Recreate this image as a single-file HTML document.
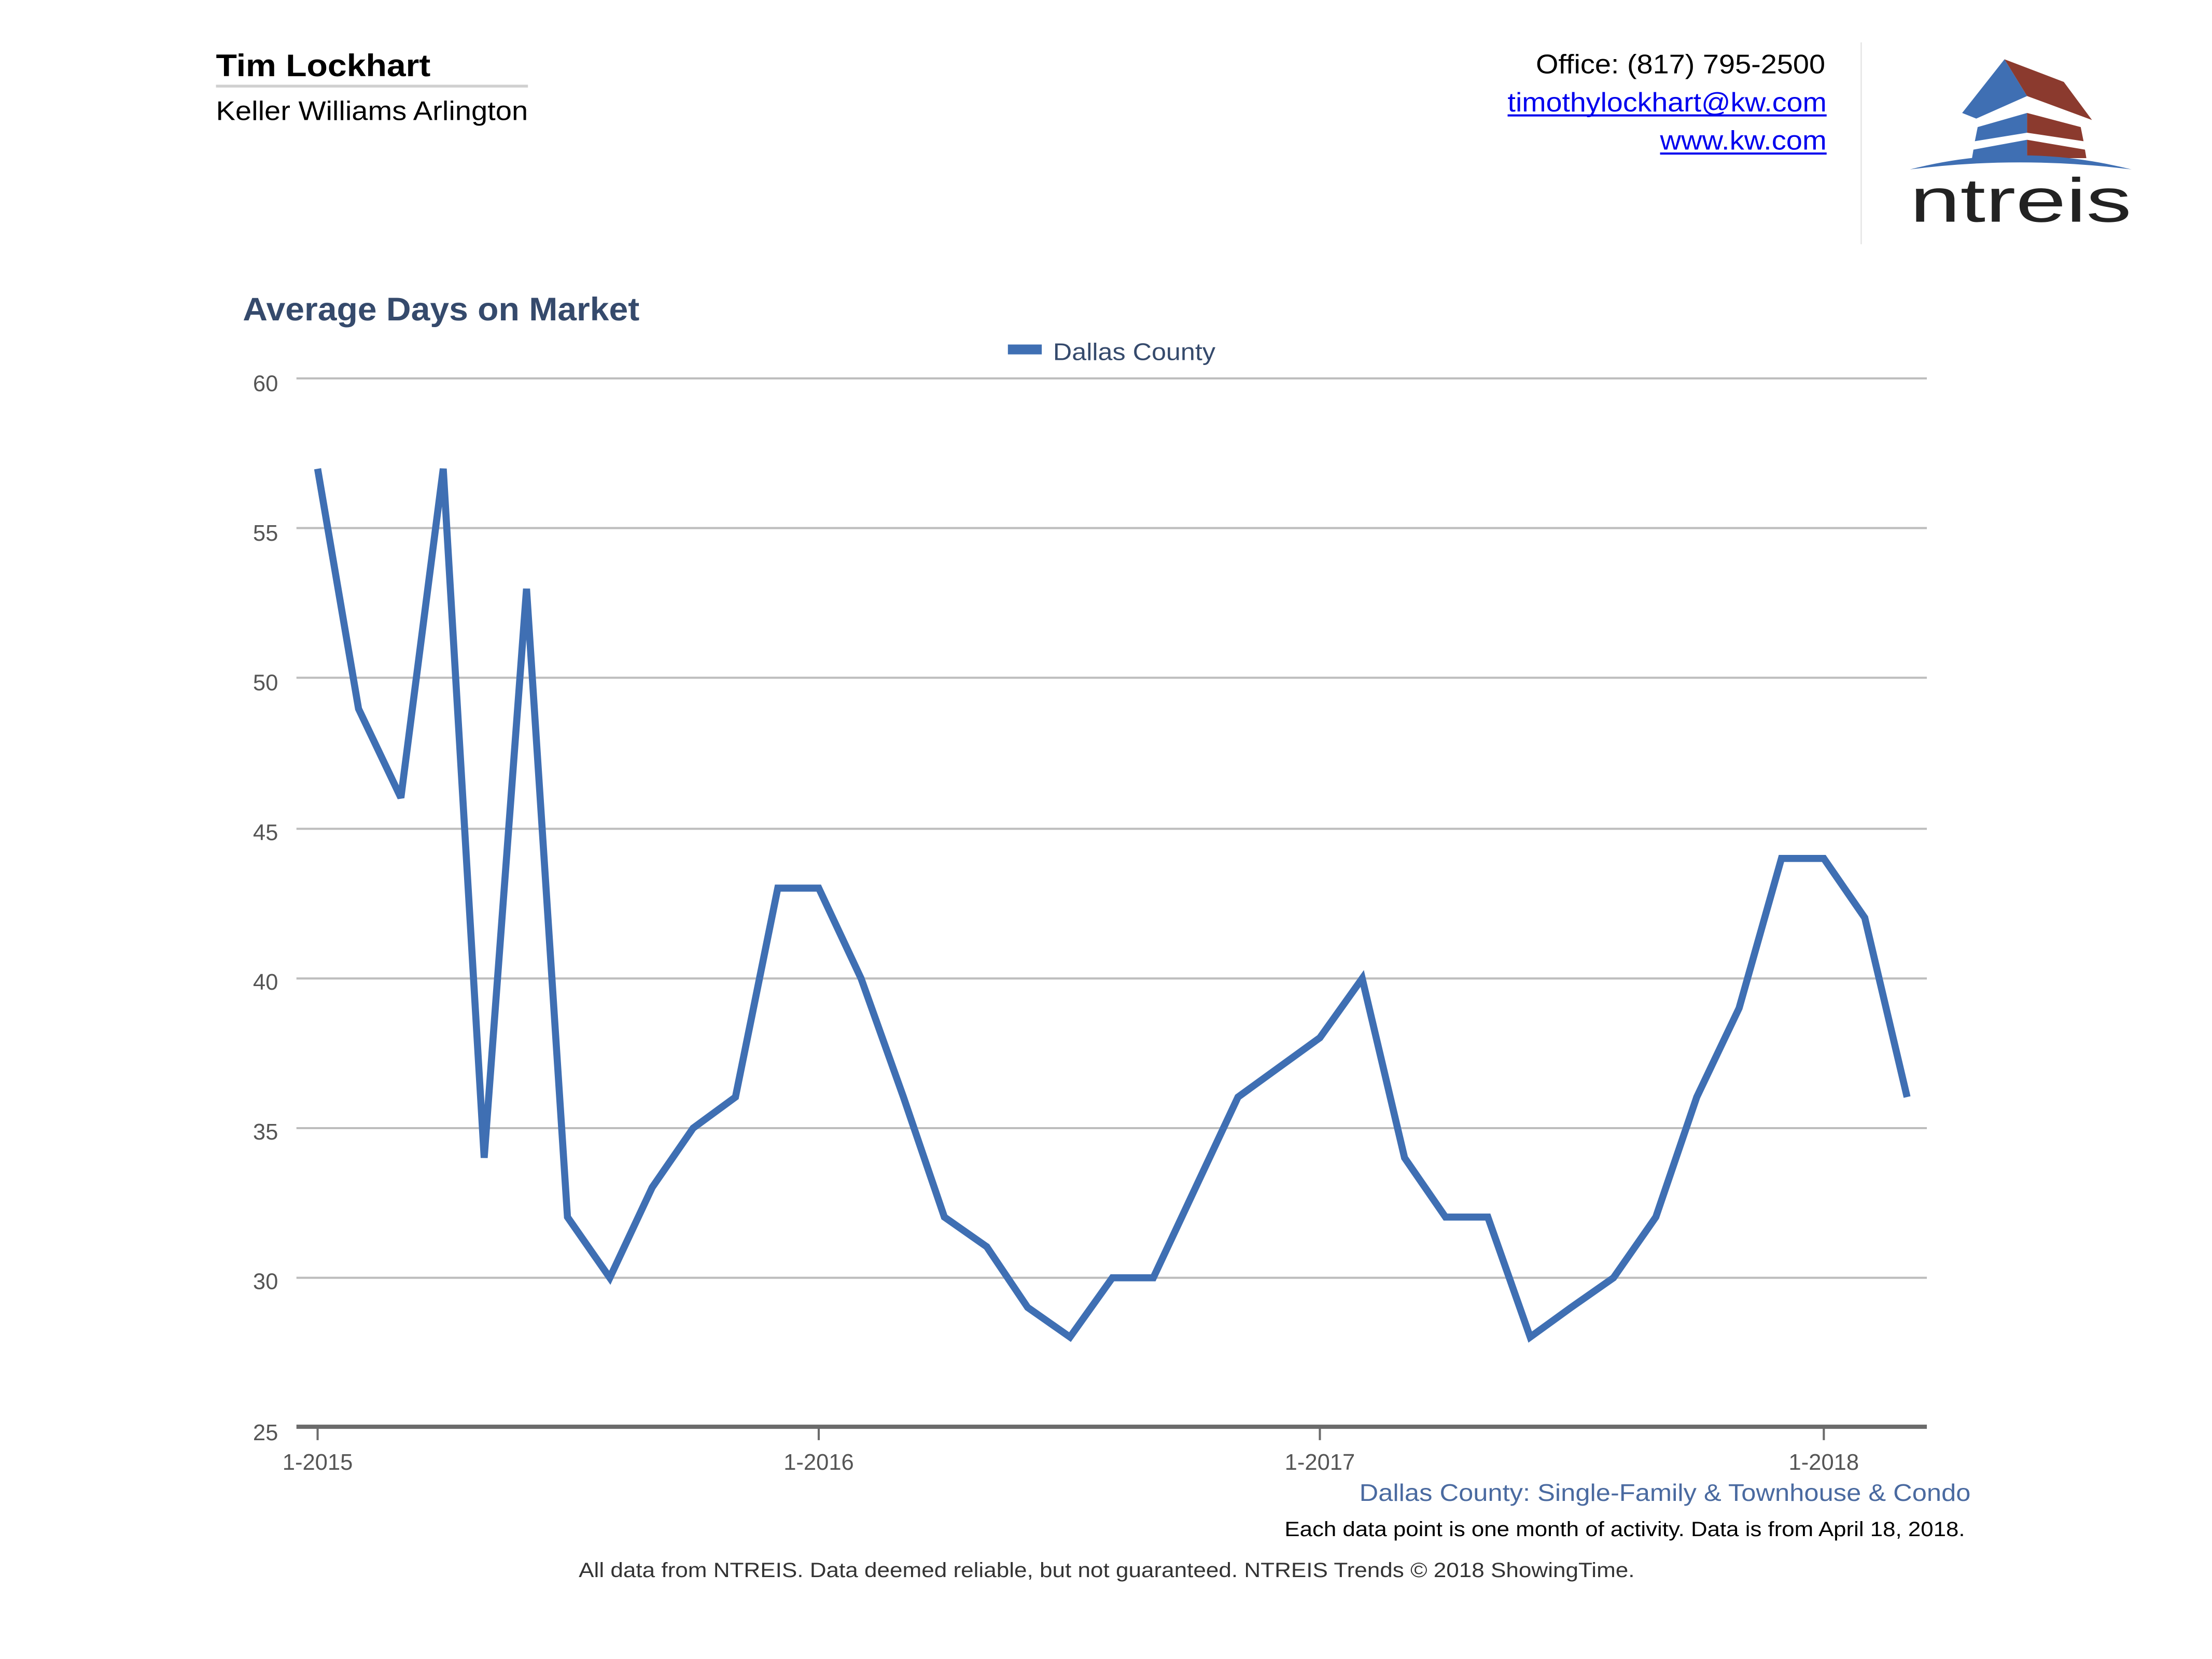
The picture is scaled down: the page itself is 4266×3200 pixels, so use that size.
<!DOCTYPE html>
<html><head><meta charset="utf-8"><style>
html,body{margin:0;padding:0;background:#fff}
svg{display:block}
text{font-family:"Liberation Sans",Arial,sans-serif}
</style></head><body>
<svg width="4266" height="3200" viewBox="0 0 1567 1175" preserveAspectRatio="none" xmlns="http://www.w3.org/2000/svg">
<rect width="1567" height="1175" fill="#fff"/>
<!-- header -->
<text x="153" y="54" font-size="22" font-weight="bold" fill="#000" textLength="152" lengthAdjust="spacingAndGlyphs">Tim Lockhart</text>
<rect x="153" y="60" width="221" height="2" fill="#d0d0d0"/>
<text x="153" y="85" font-size="19" fill="#000" textLength="221" lengthAdjust="spacingAndGlyphs">Keller Williams Arlington</text>
<text x="1088" y="52" font-size="19" fill="#000" textLength="205" lengthAdjust="spacingAndGlyphs">Office: (817) 795-2500</text>
<text x="1068" y="79" font-size="19" fill="#0000ee" textLength="226" lengthAdjust="spacingAndGlyphs">timothylockhart@kw.com</text>
<rect x="1068" y="81" width="226" height="1.5" fill="#0000ee"/>
<text x="1176" y="106" font-size="19" fill="#0000ee" textLength="118" lengthAdjust="spacingAndGlyphs">www.kw.com</text>
<rect x="1176" y="108" width="118" height="1.5" fill="#0000ee"/>
<rect x="1318" y="30" width="1" height="143" fill="#e6e6e6"/>
<!-- logo -->
<polygon points="1420,42 1390,80 1400,84 1436,68" fill="#3f6fb3"/>
<polygon points="1420,42 1436,68 1482,85 1462,58" fill="#8b3a2e"/>
<polygon points="1401,90 1436,80 1436,94 1399,100" fill="#3f6fb3"/>
<polygon points="1436,80 1474,90 1476,100 1436,94" fill="#8b3a2e"/>
<polygon points="1398,106 1436,99 1436,112 1397,112" fill="#3f6fb3"/>
<polygon points="1436,99 1477,106 1478,112 1436,112" fill="#8b3a2e"/>
<path d="M1353,120 Q1430,100 1510,120 Q1430,110 1353,120Z" fill="#3f6fb3"/>
<text x="1353" y="157" font-size="44" fill="#222" textLength="157" lengthAdjust="spacingAndGlyphs">ntreis</text>
<!-- title -->
<text x="172" y="227" font-size="23" font-weight="bold" fill="#354a6c" textLength="281" lengthAdjust="spacingAndGlyphs">Average Days on Market</text>
<rect x="714" y="244" width="24" height="7" fill="#3f6fb3"/>
<text x="746" y="255" font-size="17" fill="#354a6c" textLength="115" lengthAdjust="spacingAndGlyphs">Dallas County</text>
<!-- grid -->
<g stroke="#bdbdbd" stroke-width="1.5">
<line x1="210" y1="268" x2="1365" y2="268"/>
<line x1="210" y1="374" x2="1365" y2="374"/>
<line x1="210" y1="480" x2="1365" y2="480"/>
<line x1="210" y1="587" x2="1365" y2="587"/>
<line x1="210" y1="693" x2="1365" y2="693"/>
<line x1="210" y1="799" x2="1365" y2="799"/>
<line x1="210" y1="905" x2="1365" y2="905"/>
</g>
<g font-size="16" fill="#555" text-anchor="end">
<text x="197" y="277">60</text>
<text x="197" y="383">55</text>
<text x="197" y="489">50</text>
<text x="197" y="595">45</text>
<text x="197" y="701">40</text>
<text x="197" y="807">35</text>
<text x="197" y="913">30</text>
<text x="197" y="1020">25</text>
</g>
<rect x="210" y="1009" width="1155" height="3" fill="#6b6b6b"/>
<g stroke="#6b6b6b" stroke-width="1.5">
<line x1="225" y1="1011" x2="225" y2="1020"/>
<line x1="580" y1="1011" x2="580" y2="1020"/>
<line x1="935" y1="1011" x2="935" y2="1020"/>
<line x1="1292" y1="1011" x2="1292" y2="1020"/>
</g>
<g font-size="16" fill="#555" text-anchor="middle">
<text x="225" y="1041">1-2015</text>
<text x="580" y="1041">1-2016</text>
<text x="935" y="1041">1-2017</text>
<text x="1292" y="1041">1-2018</text>
</g>
<polyline fill="none" stroke="#3f6fb3" stroke-width="5" stroke-linejoin="miter" stroke-miterlimit="3"
points="225,332 254,502 284,565 314,332 343,820 373,417 402,862 432,905 462,841 491,799 521,777 551,629 580,629 610,693 640,777 669,862 699,883 728,926 758,947 788,905 817,905 847,841 877,777 906,756 935,735 965,693 995,820 1024,862 1054,862 1084,947 1113,926 1143,905 1173,862 1202,777 1232,714 1262,608 1292,608 1321,650 1351,777"/>
<text x="963" y="1063" font-size="17" fill="#4a6aa0" textLength="433" lengthAdjust="spacingAndGlyphs">Dallas County: Single-Family &amp; Townhouse &amp; Condo</text>
<text x="910" y="1088" font-size="14.5" fill="#000" textLength="482" lengthAdjust="spacingAndGlyphs">Each data point is one month of activity. Data is from April 18, 2018.</text>
<text x="410" y="1117" font-size="14.5" fill="#333" textLength="748" lengthAdjust="spacingAndGlyphs">All data from NTREIS. Data deemed reliable, but not guaranteed. NTREIS Trends © 2018 ShowingTime.</text>
</svg>
</body></html>
